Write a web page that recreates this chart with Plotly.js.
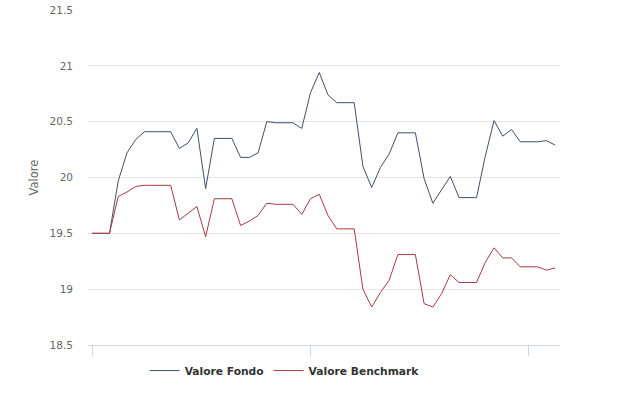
<!DOCTYPE html>
<html>
<head>
<meta charset="utf-8">
<script src="https://cdn.plot.ly/plotly-3.0.1.min.js"></script>
<style>html,body{margin:0;padding:0;background:#fff;}#chart{width:623px;height:395px;}</style>
</head>
<body>
<div id="chart"></div>
<script>
var pointIndex = [];
for (var k = 0; k < 54; k++) pointIndex.push(k);

var valoreFondo = [
  19.50, 19.50, 19.50, 19.97, 20.22, 20.34, 20.41, 20.41, 20.41, 20.41,
  20.26, 20.31, 20.44, 19.90, 20.35, 20.35, 20.35, 20.18, 20.18, 20.22,
  20.50, 20.49, 20.49, 20.49, 20.44, 20.76, 20.94, 20.74, 20.67, 20.67,
  20.67, 20.10, 19.91, 20.09, 20.21, 20.40, 20.40, 20.40, 19.99, 19.77,
  19.89, 20.01, 19.82, 19.82, 19.82, 20.19, 20.51, 20.37, 20.43, 20.32,
  20.32, 20.32, 20.33, 20.29
];

var valoreBenchmark = [
  19.50, 19.50, 19.50, 19.83, 19.87, 19.92, 19.93, 19.93, 19.93, 19.93,
  19.62, 19.68, 19.74, 19.47, 19.81, 19.81, 19.81, 19.57, 19.61, 19.66,
  19.77, 19.76, 19.76, 19.76, 19.67, 19.81, 19.85, 19.66, 19.54, 19.54,
  19.54, 19.00, 18.84, 18.97, 19.08, 19.31, 19.31, 19.31, 18.87, 18.84,
  18.96, 19.13, 19.06, 19.06, 19.06, 19.24, 19.37, 19.28, 19.28, 19.20,
  19.20, 19.20, 19.17, 19.19
];

var seriesNames = ["Valore Fondo", "Valore Benchmark"];
var xTickVals = [0, 25, 50];
var yTickVals = [18.5, 19, 19.5, 20, 20.5, 21, 21.5];
var yTickText = ["18.5", "19", "19.5", "20", "20.5", "21", "21.5"];

var traces = [
  {x: pointIndex, y: valoreFondo, name: seriesNames[0], type: "scatter", mode: "lines",
   line: {color: "#3f5068", width: 1}},
  {x: pointIndex, y: valoreBenchmark, name: seriesNames[1], type: "scatter", mode: "lines",
   line: {color: "#a83a42", width: 1}}
];

var layout = {
  width: 623, height: 395,
  margin: {l: 88, r: 63, t: 10, b: 50, autoexpand: false},
  paper_bgcolor: "#ffffff", plot_bgcolor: "#ffffff",
  font: {family: "DejaVu Sans, Verdana, sans-serif", color: "#666666"},
  showlegend: true,
  legend: {orientation: "h", x: 0.12, xanchor: "left", y: -0.033, yanchor: "top",
           font: {size: 10.7, color: "#333333", weight: "bold"}, itemwidth: 30,
           bgcolor: "rgba(0,0,0,0)"},
  hovermode: false,
  xaxis: {range: [-0.46, 53.55], tickvals: xTickVals, showticklabels: false,
          ticks: "outside", ticklen: 10, tickcolor: "#ccd6eb", tickwidth: 1,
          showgrid: false, zeroline: false, showline: true, linecolor: "#ccd6eb", linewidth: 1,
          fixedrange: true, automargin: false},
  yaxis: {range: [18.5, 21.5], tickvals: yTickVals, ticktext: yTickText,
          showgrid: true, gridcolor: "#e6e6e6", gridwidth: 1, zeroline: false,
          showline: false, ticks: "", ticklabelstandoff: 14,
          tickfont: {size: 10.5, color: "#666666"},
          title: {text: "Valore", font: {size: 11.5, color: "#666666"}, standoff: 8},
          fixedrange: true, automargin: false}
};

Plotly.newPlot("chart", traces, layout, {displayModeBar: false, staticPlot: true});
</script>
</body>
</html>
